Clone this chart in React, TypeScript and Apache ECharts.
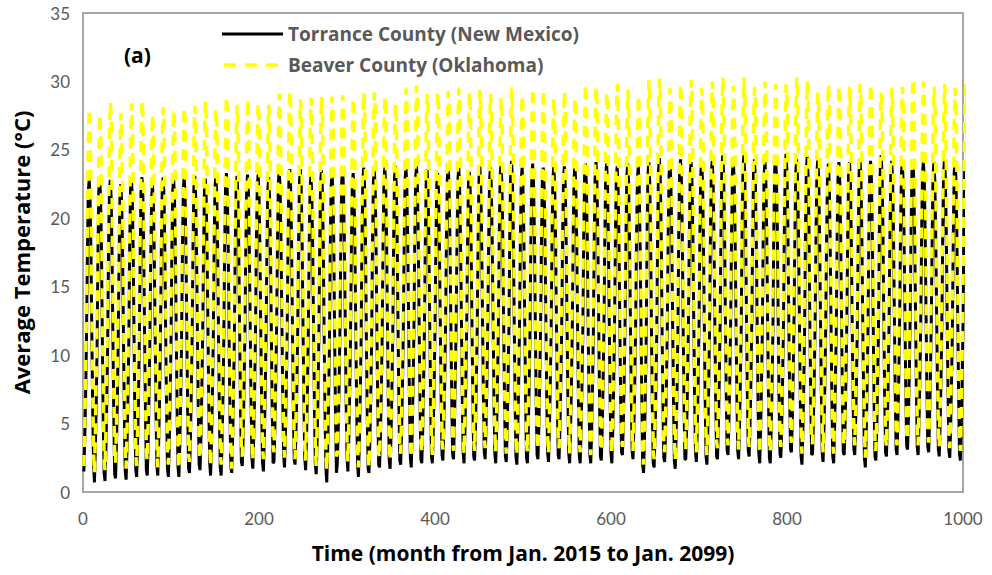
import React, { useEffect, useRef } from "react";
import * as echarts from "echarts";

// Monthly average temperature (°C), one row per year, Jan..Dec, starting Jan. 2015
const torrance: number[][] = [
  [1.5, 3.9, 7.0, 11.4, 17.4, 21.9, 22.8, 21.5, 17.7, 11.7, 6.2, 2.0],
  [0.7, 3.1, 6.2, 10.6, 17.5, 22.0, 22.9, 21.4, 17.8, 11.0, 5.2, 1.4],
  [0.8, 2.9, 6.5, 10.5, 17.6, 21.8, 22.8, 21.5, 17.5, 11.2, 5.5, 1.3],
  [1.0, 3.4, 6.4, 10.9, 17.1, 21.7, 22.5, 21.1, 17.4, 11.2, 5.6, 1.5],
  [0.9, 3.1, 6.6, 10.6, 17.8, 22.1, 23.0, 21.5, 17.9, 11.3, 5.4, 1.6],
  [1.1, 3.5, 6.6, 11.0, 17.6, 22.2, 23.0, 21.7, 17.7, 11.4, 5.8, 1.6],
  [1.2, 3.4, 6.9, 10.9, 17.2, 21.5, 22.4, 21.0, 17.3, 11.5, 5.7, 1.9],
  [1.2, 3.6, 6.7, 11.1, 17.6, 22.0, 23.0, 21.7, 17.8, 11.4, 5.9, 1.7],
  [1.1, 3.3, 6.8, 10.8, 17.7, 22.0, 22.9, 21.4, 17.6, 11.5, 5.6, 1.8],
  [1.1, 3.5, 6.6, 11.0, 17.6, 22.1, 23.0, 21.6, 17.9, 11.3, 5.7, 1.7],
  [1.4, 3.6, 7.1, 11.2, 17.9, 22.2, 23.1, 21.7, 17.8, 11.8, 6.0, 2.0],
  [1.6, 3.8, 7.3, 11.3, 17.6, 22.0, 22.9, 21.5, 17.7, 11.9, 6.1, 2.1],
  [1.2, 3.5, 6.9, 11.0, 17.8, 22.2, 23.1, 21.7, 17.9, 11.5, 5.8, 1.8],
  [1.2, 3.6, 6.7, 11.1, 18.0, 22.4, 23.3, 21.9, 18.1, 11.5, 5.7, 1.9],
  [1.4, 3.7, 7.0, 11.3, 17.8, 22.1, 23.1, 21.8, 17.8, 11.7, 6.0, 2.2],
  [1.9, 4.1, 7.6, 11.7, 17.9, 22.3, 23.2, 21.8, 18.0, 12.2, 6.4, 2.4],
  [1.7, 4.0, 7.2, 11.5, 18.0, 22.3, 23.2, 21.7, 18.1, 12.0, 6.3, 2.2],
  [1.5, 3.8, 7.1, 11.3, 17.7, 22.1, 23.0, 21.6, 17.8, 11.8, 6.1, 2.1],
  [2.2, 4.5, 7.8, 12.0, 18.2, 22.6, 23.5, 22.1, 18.3, 12.5, 6.8, 2.7],
  [1.8, 4.1, 7.4, 11.6, 18.3, 22.7, 23.6, 22.2, 18.4, 12.1, 6.4, 2.4],
  [2.0, 4.3, 7.6, 11.8, 18.3, 22.7, 23.6, 22.2, 18.4, 12.3, 6.6, 2.5],
  [1.6, 3.9, 7.2, 11.4, 17.8, 22.2, 23.1, 21.7, 17.9, 11.9, 6.2, 2.1],
  [1.3, 3.6, 6.9, 11.1, 18.2, 22.6, 23.5, 22.1, 18.3, 11.6, 5.9, 1.8],
  [0.7, 3.0, 6.3, 10.5, 18.0, 22.4, 23.3, 21.9, 18.1, 11.0, 5.3, 1.4],
  [2.1, 4.4, 7.7, 11.9, 18.3, 22.7, 23.6, 22.2, 18.4, 12.4, 6.7, 2.6],
  [1.5, 3.8, 7.1, 11.3, 18.0, 22.4, 23.3, 21.9, 18.1, 11.8, 6.1, 2.0],
  [1.1, 3.4, 6.7, 10.9, 18.4, 22.8, 23.7, 22.3, 18.5, 11.4, 5.7, 1.7],
  [1.4, 3.7, 7.0, 11.2, 18.3, 22.7, 23.6, 22.2, 18.4, 11.7, 6.0, 2.0],
  [1.8, 4.1, 7.4, 11.6, 18.4, 22.8, 23.7, 22.3, 18.5, 12.1, 6.4, 2.3],
  [1.7, 4.0, 7.3, 11.5, 18.5, 22.9, 23.8, 22.4, 18.6, 12.0, 6.3, 2.3],
  [2.0, 4.3, 7.6, 11.8, 18.4, 22.8, 23.7, 22.3, 18.5, 12.3, 6.6, 2.5],
  [1.8, 4.1, 7.4, 11.6, 18.5, 22.9, 23.8, 22.4, 18.6, 12.1, 6.4, 2.4],
  [2.1, 4.4, 7.7, 11.9, 18.3, 22.7, 23.6, 22.2, 18.4, 12.4, 6.7, 2.6],
  [2.1, 4.4, 7.7, 11.9, 18.0, 22.4, 23.3, 21.9, 18.1, 12.4, 6.7, 2.7],
  [2.3, 4.6, 7.9, 12.1, 18.5, 22.9, 23.8, 22.4, 18.6, 12.6, 6.9, 2.8],
  [2.4, 4.7, 8.0, 12.2, 18.4, 22.8, 23.7, 22.3, 18.5, 12.7, 7.0, 2.9],
  [2.1, 4.4, 7.7, 11.9, 18.1, 22.5, 23.4, 22.0, 18.2, 12.4, 6.7, 2.6],
  [2.3, 4.6, 7.9, 12.1, 18.5, 22.9, 23.8, 22.4, 18.6, 12.6, 6.9, 2.9],
  [2.4, 4.7, 8.0, 12.2, 18.4, 22.8, 23.7, 22.3, 18.5, 12.7, 7.0, 2.8],
  [2.1, 4.4, 7.7, 11.9, 18.7, 23.1, 24.0, 22.6, 18.8, 12.4, 6.7, 2.6],
  [2.2, 4.5, 7.8, 12.0, 18.9, 23.3, 24.2, 22.8, 19.0, 12.5, 6.8, 2.6],
  [2.0, 4.3, 7.6, 11.8, 18.4, 22.8, 23.7, 22.3, 18.5, 12.3, 6.6, 2.5],
  [2.1, 4.4, 7.7, 11.9, 18.7, 23.1, 24.0, 22.6, 18.8, 12.4, 6.7, 2.7],
  [2.4, 4.7, 8.0, 12.2, 18.4, 22.8, 23.7, 22.3, 18.5, 12.7, 7.0, 2.8],
  [2.2, 4.5, 7.8, 12.0, 18.5, 22.9, 23.8, 22.4, 18.6, 12.5, 6.8, 2.7],
  [2.4, 4.7, 8.0, 12.2, 18.5, 22.9, 23.8, 22.4, 18.6, 12.7, 7.0, 2.8],
  [2.1, 4.4, 7.7, 11.9, 18.5, 22.9, 23.8, 22.4, 18.6, 12.4, 6.7, 2.6],
  [2.1, 4.4, 7.7, 11.9, 18.7, 23.1, 24.0, 22.6, 18.8, 12.4, 6.7, 2.7],
  [2.1, 4.4, 7.7, 11.9, 18.8, 23.2, 24.1, 22.7, 18.9, 12.4, 6.7, 2.6],
  [2.3, 4.6, 7.9, 12.1, 18.7, 23.1, 24.0, 22.6, 18.8, 12.6, 6.9, 2.8],
  [2.1, 4.4, 7.7, 11.9, 18.5, 22.9, 23.8, 22.4, 18.6, 12.4, 6.7, 2.9],
  [2.7, 5.0, 8.3, 12.5, 18.7, 23.1, 24.0, 22.6, 18.8, 13.0, 7.3, 3.0],
  [2.4, 4.7, 8.0, 12.2, 18.5, 22.9, 23.8, 22.4, 18.6, 12.7, 7.0, 2.0],
  [1.4, 3.7, 7.0, 11.2, 18.8, 23.2, 24.1, 22.7, 18.9, 11.7, 6.0, 2.1],
  [1.8, 4.1, 7.4, 11.6, 19.1, 23.5, 24.4, 23.0, 19.2, 12.1, 6.4, 2.5],
  [2.2, 4.5, 7.8, 12.0, 18.8, 23.2, 24.1, 22.7, 18.9, 12.5, 6.8, 2.3],
  [1.7, 4.0, 7.3, 11.5, 19.0, 23.4, 24.3, 22.9, 19.1, 12.0, 6.3, 2.4],
  [2.4, 4.7, 8.0, 12.2, 18.8, 23.2, 24.1, 22.7, 18.9, 12.7, 7.0, 2.9],
  [2.2, 4.5, 7.8, 12.0, 18.8, 23.2, 24.1, 22.7, 18.9, 12.5, 6.8, 2.6],
  [2.0, 4.3, 7.6, 11.8, 18.9, 23.3, 24.2, 22.8, 19.0, 12.3, 6.6, 2.6],
  [2.4, 4.7, 8.0, 12.2, 19.3, 23.7, 24.6, 23.2, 19.4, 12.7, 7.0, 3.0],
  [2.7, 5.0, 8.3, 12.5, 18.9, 23.3, 24.2, 22.8, 19.0, 13.0, 7.3, 3.0],
  [2.4, 4.7, 8.0, 12.2, 19.3, 23.7, 24.6, 23.2, 19.4, 12.7, 7.0, 3.0],
  [2.6, 4.9, 8.2, 12.4, 19.0, 23.4, 24.3, 22.9, 19.1, 12.9, 7.2, 2.8],
  [2.1, 4.4, 7.7, 11.9, 18.8, 23.2, 24.1, 22.7, 18.9, 12.4, 6.7, 2.5],
  [2.1, 4.4, 7.7, 11.9, 19.2, 23.6, 24.5, 23.1, 19.3, 12.4, 6.7, 2.8],
  [2.5, 4.8, 8.1, 12.3, 19.4, 23.8, 24.7, 23.3, 19.5, 12.8, 7.1, 3.1],
  [2.9, 5.2, 8.5, 12.7, 19.0, 23.4, 24.3, 22.9, 19.1, 13.2, 7.5, 2.6],
  [2.0, 4.3, 7.6, 11.8, 19.2, 23.6, 24.5, 23.1, 19.3, 12.3, 6.6, 2.7],
  [2.8, 5.1, 8.4, 12.6, 19.0, 23.4, 24.3, 22.9, 19.1, 13.1, 7.4, 2.9],
  [2.2, 4.5, 7.8, 12.0, 18.7, 23.1, 24.0, 22.6, 18.8, 12.5, 6.8, 2.6],
  [2.1, 4.4, 7.7, 11.9, 18.8, 23.2, 24.1, 22.7, 18.9, 12.4, 6.7, 2.9],
  [2.7, 5.0, 8.3, 12.5, 18.8, 23.2, 24.1, 22.7, 18.9, 13.0, 7.3, 3.1],
  [2.7, 5.0, 8.3, 12.5, 19.0, 23.4, 24.3, 22.9, 19.1, 13.0, 7.3, 2.5],
  [1.8, 4.1, 7.4, 11.6, 18.9, 23.3, 24.2, 22.8, 19.0, 12.1, 6.4, 2.6],
  [2.3, 4.6, 7.9, 12.1, 19.3, 23.7, 24.6, 23.2, 19.4, 12.6, 6.9, 2.9],
  [2.6, 4.9, 8.2, 12.4, 18.9, 23.3, 24.2, 22.8, 19.0, 12.9, 7.2, 3.1],
  [2.7, 5.0, 8.3, 12.5, 18.8, 23.2, 24.1, 22.7, 18.9, 13.0, 7.3, 3.4],
  [3.1, 5.4, 8.7, 12.9, 19.0, 23.4, 24.3, 22.9, 19.1, 13.4, 7.7, 3.3],
  [2.7, 5.0, 8.3, 12.5, 18.9, 23.3, 24.2, 22.8, 19.0, 13.0, 7.3, 3.3],
  [2.9, 5.2, 8.5, 12.7, 18.8, 23.2, 24.1, 22.7, 18.9, 13.2, 7.5, 3.1],
  [2.6, 4.9, 8.2, 12.4, 19.0, 23.4, 24.3, 22.9, 19.1, 12.9, 7.2, 3.0],
  [2.5, 4.8, 8.1, 12.3, 18.9, 23.3, 24.2, 22.8, 19.0, 12.8, 7.1, 2.8],
  [2.3, 4.6, 7.9, 12.1, 18.9, 23.3, 24.2, 22.8, 19.0, 12.6, 6.9, 2.7],
];

const beaver: number[][] = [
  [1.9, 4.5, 8.9, 13.9, 19.5, 25.2, 28.0, 27.0, 22.2, 14.4, 7.7, 2.9],
  [1.4, 4.0, 8.4, 13.4, 19.1, 24.8, 27.6, 26.6, 21.8, 13.9, 7.2, 2.4],
  [1.6, 4.2, 8.6, 13.6, 20.0, 25.7, 28.5, 27.5, 22.7, 14.1, 7.4, 2.6],
  [2.1, 4.7, 9.1, 14.1, 19.2, 24.9, 27.7, 26.7, 21.9, 14.6, 7.9, 3.1],
  [1.7, 4.3, 8.7, 13.7, 19.9, 25.6, 28.4, 27.4, 22.6, 14.2, 7.5, 2.7],
  [1.9, 4.5, 8.9, 13.9, 20.1, 25.8, 28.6, 27.6, 22.8, 14.4, 7.7, 2.9],
  [2.3, 4.9, 9.3, 14.3, 19.1, 24.8, 27.6, 26.6, 21.8, 14.8, 8.1, 3.3],
  [1.8, 4.4, 8.8, 13.8, 19.6, 25.3, 28.1, 27.1, 22.3, 14.3, 7.6, 2.8],
  [2.0, 4.6, 9.0, 14.0, 19.4, 25.1, 27.9, 26.9, 22.1, 14.5, 7.8, 3.0],
  [1.7, 4.3, 8.7, 13.7, 19.6, 25.3, 28.1, 27.1, 22.3, 14.2, 7.5, 2.7],
  [2.2, 4.8, 9.2, 14.2, 19.7, 25.4, 28.2, 27.2, 22.4, 14.7, 8.0, 3.2],
  [2.4, 5.0, 9.4, 14.4, 20.1, 25.8, 28.6, 27.6, 22.8, 14.9, 8.2, 3.4],
  [1.9, 4.5, 8.9, 13.9, 19.5, 25.2, 28.0, 27.0, 22.2, 14.4, 7.7, 2.9],
  [2.0, 4.6, 9.0, 14.0, 20.4, 26.1, 28.9, 27.9, 23.1, 14.5, 7.8, 3.0],
  [1.7, 4.3, 8.7, 13.7, 19.8, 25.5, 28.3, 27.3, 22.5, 14.2, 7.5, 2.7],
  [2.6, 5.2, 9.6, 14.6, 20.2, 25.9, 28.7, 27.7, 22.9, 15.1, 8.4, 3.6],
  [2.3, 4.9, 9.3, 14.3, 19.9, 25.6, 28.4, 27.4, 22.6, 14.8, 8.1, 3.3],
  [2.4, 5.0, 9.4, 14.4, 19.8, 25.5, 28.3, 27.3, 22.5, 14.9, 8.2, 3.4],
  [2.9, 5.5, 9.9, 14.9, 20.6, 26.3, 29.1, 28.1, 23.3, 15.4, 8.7, 3.9],
  [2.5, 5.1, 9.5, 14.5, 20.8, 26.5, 29.3, 28.3, 23.5, 15.0, 8.3, 3.5],
  [2.4, 5.0, 9.4, 14.4, 20.2, 25.9, 28.7, 27.7, 22.9, 14.9, 8.2, 3.4],
  [2.3, 4.9, 9.3, 14.3, 20.3, 26.0, 28.8, 27.8, 23.0, 14.8, 8.1, 3.3],
  [1.9, 4.5, 8.9, 13.9, 20.4, 26.1, 28.9, 27.9, 23.1, 14.4, 7.7, 2.9],
  [1.6, 4.2, 8.6, 13.6, 20.4, 26.1, 28.9, 27.9, 23.1, 14.1, 7.4, 2.6],
  [2.8, 5.4, 9.8, 14.8, 20.5, 26.2, 29.0, 28.0, 23.2, 15.3, 8.6, 3.8],
  [2.2, 4.8, 9.2, 14.2, 20.3, 26.0, 28.8, 27.8, 23.0, 14.7, 8.0, 3.2],
  [1.8, 4.4, 8.8, 13.8, 20.7, 26.4, 29.2, 28.2, 23.4, 14.3, 7.6, 2.8],
  [1.8, 4.4, 8.8, 13.8, 20.7, 26.4, 29.2, 28.2, 23.4, 14.3, 7.6, 2.8],
  [2.5, 5.1, 9.5, 14.5, 20.4, 26.1, 28.9, 27.9, 23.1, 15.0, 8.3, 3.5],
  [2.3, 4.9, 9.3, 14.3, 19.9, 25.6, 28.4, 27.4, 22.6, 14.8, 8.1, 3.3],
  [2.8, 5.4, 9.8, 14.8, 21.0, 26.7, 29.5, 28.5, 23.7, 15.3, 8.6, 3.8],
  [2.5, 5.1, 9.5, 14.5, 21.2, 26.9, 29.7, 28.7, 23.9, 15.0, 8.3, 3.5],
  [2.9, 5.5, 9.9, 14.9, 20.6, 26.3, 29.1, 28.1, 23.3, 15.4, 8.7, 3.9],
  [2.7, 5.3, 9.7, 14.7, 20.7, 26.4, 29.2, 28.2, 23.4, 15.2, 8.5, 3.7],
  [3.1, 5.7, 10.1, 15.1, 20.8, 26.5, 29.3, 28.3, 23.5, 15.6, 8.9, 4.1],
  [3.0, 5.6, 10.0, 15.0, 21.0, 26.7, 29.5, 28.5, 23.7, 15.5, 8.8, 4.0],
  [2.8, 5.4, 9.8, 14.8, 20.7, 26.4, 29.2, 28.2, 23.4, 15.3, 8.6, 3.8],
  [3.0, 5.6, 10.0, 15.0, 20.9, 26.6, 29.4, 28.4, 23.6, 15.5, 8.8, 4.0],
  [3.2, 5.8, 10.2, 15.2, 20.6, 26.3, 29.1, 28.1, 23.3, 15.7, 9.0, 4.2],
  [2.9, 5.5, 9.9, 14.9, 20.3, 26.0, 28.8, 27.8, 23.0, 15.4, 8.7, 3.9],
  [2.8, 5.4, 9.8, 14.8, 21.0, 26.7, 29.5, 28.5, 23.7, 15.3, 8.6, 3.8],
  [2.7, 5.3, 9.7, 14.7, 20.5, 26.2, 29.0, 28.0, 23.2, 15.2, 8.5, 3.7],
  [2.9, 5.5, 9.9, 14.9, 21.0, 26.7, 29.5, 28.5, 23.7, 15.4, 8.7, 3.9],
  [3.1, 5.7, 10.1, 15.1, 20.9, 26.6, 29.4, 28.4, 23.6, 15.6, 8.9, 4.1],
  [2.8, 5.4, 9.8, 14.8, 20.3, 26.0, 28.8, 27.8, 23.0, 15.3, 8.6, 3.8],
  [3.2, 5.8, 10.2, 15.2, 20.8, 26.5, 29.3, 28.3, 23.5, 15.7, 9.0, 4.2],
  [2.8, 5.4, 9.8, 14.8, 20.3, 26.0, 28.8, 27.8, 23.0, 15.3, 8.6, 3.8],
  [2.9, 5.5, 9.9, 14.9, 21.3, 27.0, 29.8, 28.8, 24.0, 15.4, 8.7, 3.9],
  [2.7, 5.3, 9.7, 14.7, 21.1, 26.8, 29.6, 28.6, 23.8, 15.2, 8.5, 3.7],
  [3.0, 5.6, 10.0, 15.0, 20.7, 26.4, 29.2, 28.2, 23.4, 15.5, 8.8, 4.0],
  [2.8, 5.4, 9.8, 14.8, 21.3, 27.0, 29.8, 28.8, 24.0, 15.3, 8.6, 3.8],
  [3.3, 5.9, 10.3, 15.3, 20.9, 26.6, 29.4, 28.4, 23.6, 15.8, 9.1, 4.3],
  [3.0, 5.6, 10.0, 15.0, 20.5, 26.2, 29.0, 28.0, 23.2, 15.5, 8.8, 3.0],
  [2.0, 4.6, 9.0, 14.0, 21.6, 27.3, 30.1, 29.1, 24.3, 14.5, 7.8, 3.0],
  [2.4, 5.0, 9.4, 14.4, 21.7, 27.4, 30.2, 29.2, 24.4, 14.9, 8.2, 3.4],
  [2.9, 5.5, 9.9, 14.9, 21.0, 26.7, 29.5, 28.5, 23.7, 15.4, 8.7, 3.9],
  [2.3, 4.9, 9.3, 14.3, 21.3, 27.0, 29.8, 28.8, 24.0, 14.8, 8.1, 3.3],
  [3.1, 5.7, 10.1, 15.1, 21.6, 27.3, 30.1, 29.1, 24.3, 15.6, 8.9, 4.1],
  [2.9, 5.5, 9.9, 14.9, 21.0, 26.7, 29.5, 28.5, 23.7, 15.4, 8.7, 3.9],
  [2.7, 5.3, 9.7, 14.7, 21.5, 27.2, 30.0, 29.0, 24.2, 15.2, 8.5, 3.7],
  [3.2, 5.8, 10.2, 15.2, 21.8, 27.5, 30.3, 29.3, 24.5, 15.7, 9.0, 4.2],
  [3.4, 6.0, 10.4, 15.4, 21.2, 26.9, 29.7, 28.7, 23.9, 15.9, 9.2, 4.4],
  [3.1, 5.7, 10.1, 15.1, 21.8, 27.5, 30.3, 29.3, 24.5, 15.6, 8.9, 4.1],
  [3.3, 5.9, 10.3, 15.3, 21.1, 26.8, 29.6, 28.6, 23.8, 15.8, 9.1, 4.3],
  [2.8, 5.4, 9.8, 14.8, 21.5, 27.2, 30.0, 29.0, 24.2, 15.3, 8.6, 3.8],
  [2.9, 5.5, 9.9, 14.9, 21.3, 27.0, 29.8, 28.8, 24.0, 15.4, 8.7, 3.9],
  [3.3, 5.9, 10.3, 15.3, 21.3, 27.0, 29.8, 28.8, 24.0, 15.8, 9.1, 4.3],
  [3.6, 6.2, 10.6, 15.6, 21.8, 27.5, 30.3, 29.3, 24.5, 16.1, 9.4, 4.6],
  [2.8, 5.4, 9.8, 14.8, 21.5, 27.2, 30.0, 29.0, 24.2, 15.3, 8.6, 3.8],
  [3.5, 6.1, 10.5, 15.5, 20.7, 26.4, 29.2, 28.2, 23.4, 16.0, 9.3, 4.5],
  [2.9, 5.5, 9.9, 14.9, 21.3, 27.0, 29.8, 28.8, 24.0, 15.4, 8.7, 3.9],
  [2.8, 5.4, 9.8, 14.8, 21.2, 26.9, 29.7, 28.7, 23.9, 15.3, 8.6, 3.8],
  [3.4, 6.0, 10.4, 15.4, 21.1, 26.8, 29.6, 28.6, 23.8, 15.9, 9.2, 4.4],
  [3.4, 6.0, 10.4, 15.4, 21.3, 27.0, 29.8, 28.8, 24.0, 15.9, 9.2, 4.4],
  [2.5, 5.1, 9.5, 14.5, 21.3, 27.0, 29.8, 28.8, 24.0, 15.0, 8.3, 3.5],
  [3.0, 5.6, 10.0, 15.0, 20.7, 26.4, 29.2, 28.2, 23.4, 15.5, 8.8, 4.0],
  [3.3, 5.9, 10.3, 15.3, 21.0, 26.7, 29.5, 28.5, 23.7, 15.8, 9.1, 4.3],
  [3.4, 6.0, 10.4, 15.4, 21.1, 26.8, 29.6, 28.6, 23.8, 15.9, 9.2, 4.4],
  [3.8, 6.4, 10.8, 15.8, 21.7, 27.4, 30.2, 29.2, 24.4, 16.3, 9.6, 4.8],
  [3.4, 6.0, 10.4, 15.4, 21.5, 27.2, 30.0, 29.0, 24.2, 15.9, 9.2, 4.4],
  [3.6, 6.2, 10.6, 15.6, 21.1, 26.8, 29.6, 28.6, 23.8, 16.1, 9.4, 4.6],
  [3.3, 5.9, 10.3, 15.3, 21.3, 27.0, 29.8, 28.8, 24.0, 15.8, 9.1, 4.3],
  [3.2, 5.8, 10.2, 15.2, 21.0, 26.7, 29.5, 28.5, 23.7, 15.7, 9.0, 4.2],
  [3.0, 5.6, 10.0, 15.0, 21.3, 27.0, 29.8, 28.8, 24.0, 15.5, 8.8, 4.0],
];

const seriesNames = ["Torrance County (New Mexico)", "Beaver County (Oklahoma)"];
const xTitle = "Time (month from Jan. 2015 to Jan. 2099)";
const yTitle = "Average Temperature (°C)";
const panelLabel = "(a)";

const TICK_FONT = "Lato, 'Open Sans', sans-serif";
const TITLE_FONT = "'Open Sans', Lato, sans-serif";

export default function App() {
  const ref = useRef<HTMLDivElement>(null);
  useEffect(() => {
    if (!ref.current) return;
    const chart = echarts.init(ref.current, null, { renderer: "svg" });
    const toPoints = (rows: number[][]) =>
      rows.flat().map((v, i) => [i + 1, v]);
    chart.setOption({
      animation: false,
      backgroundColor: "#ffffff",
      textStyle: { fontFamily: TICK_FONT },
      grid: {
        left: 83,
        right: 29,
        top: 13,
        bottom: 83,
        show: true,
        borderColor: "#a6a6a6",
        borderWidth: 2,
        containLabel: false,
      },
      graphic: [
        {
          type: "line",
          shape: { x1: 222, y1: 34, x2: 283, y2: 34 },
          style: { stroke: "#000000", lineWidth: 3 },
        },
        {
          type: "text",
          x: 288,
          y: 34,
          style: {
            text: seriesNames[0],
            fill: "#595959",
            font: `bold 19px ${TITLE_FONT}`,
            verticalAlign: "middle",
          },
        },
        {
          type: "line",
          shape: { x1: 224, y1: 65, x2: 280, y2: 65 },
          style: { stroke: "#ffff00", lineWidth: 3.5, lineDash: [12, 9] },
        },
        {
          type: "text",
          x: 288,
          y: 65,
          style: {
            text: seriesNames[1],
            fill: "#595959",
            font: `bold 19px ${TITLE_FONT}`,
            verticalAlign: "middle",
          },
        },
        {
          type: "text",
          x: 124,
          y: 55,
          style: {
            text: panelLabel,
            fill: "#000",
            font: `bold 21px ${TITLE_FONT}`,
            verticalAlign: "middle",
          },
        },
      ],
      xAxis: {
        type: "value",
        min: 0,
        max: 1000,
        interval: 200,
        name: xTitle,
        nameLocation: "middle",
        nameGap: 50,
        nameTextStyle: {
          color: "#000",
          fontWeight: "bold",
          fontSize: 21,
          fontFamily: TITLE_FONT,
        },
        axisLine: { show: false },
        axisTick: { show: false },
        splitLine: { show: false },
        axisLabel: {
          color: "#595959",
          fontSize: 17,
          margin: 18,
          fontFamily: TICK_FONT,
          formatter: (v: number) => String(v),
        },
      },
      yAxis: {
        type: "value",
        min: 0,
        max: 35,
        interval: 5,
        name: yTitle,
        nameLocation: "middle",
        nameGap: 51,
        nameTextStyle: {
          color: "#000",
          fontWeight: "bold",
          fontSize: 22,
          fontFamily: TITLE_FONT,
        },
        axisLine: { show: false },
        axisTick: { show: false },
        splitLine: { show: false },
        axisLabel: {
          color: "#595959",
          fontSize: 17,
          margin: 13,
          fontFamily: TICK_FONT,
        },
      },
      series: [
        {
          name: seriesNames[0],
          type: "line",
          data: toPoints(torrance),
          showSymbol: false,
          symbol: "none",
          clip: true,
          lineStyle: { color: "#000000", width: 3 },
          itemStyle: { color: "#000000" },
        },
        {
          name: seriesNames[1],
          type: "line",
          data: toPoints(beaver),
          showSymbol: false,
          symbol: "none",
          clip: true,
          lineStyle: { color: "#ffff00", width: 3.5, type: [11, 8] },
          itemStyle: { color: "#ffff00" },
        },
      ],
    });
    return () => chart.dispose();
  }, []);
  return (
    <div
      ref={ref}
      style={{ position: "absolute", left: 0, top: 0, width: 992, height: 575 }}
    />
  );
}
